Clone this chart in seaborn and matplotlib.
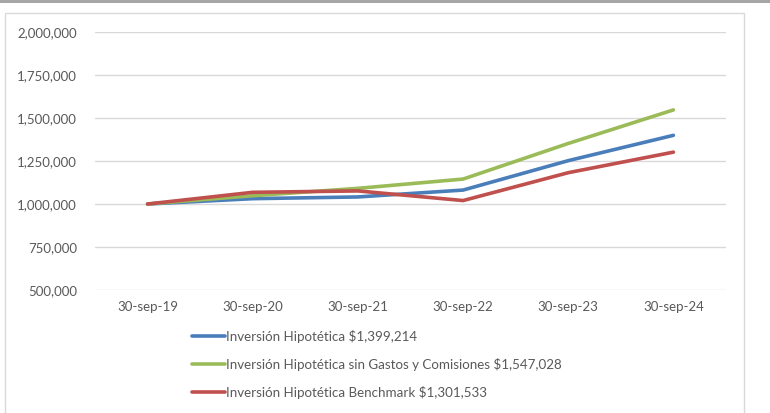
import matplotlib
matplotlib.use("Agg")
import matplotlib.pyplot as plt
import seaborn as sns
import pandas as pd
from matplotlib.lines import Line2D
from matplotlib.patches import Rectangle

dates = ["30-sep-19", "30-sep-20", "30-sep-21", "30-sep-22", "30-sep-23", "30-sep-24"]
inversion = [1000000, 1031000, 1041000, 1081000, 1252000, 1399214]
sin_gastos = [1000000, 1048000, 1091000, 1145000, 1352000, 1547028]
benchmark = [1000000, 1068000, 1076000, 1020000, 1182000, 1301533]
series_names = [
    "Inversión Hipotética $1,399,214",
    "Inversión Hipotética sin Gastos y Comisiones $1,547,028",
    "Inversión Hipotética Benchmark $1,301,533",
]
colors = ["#4A7EBB", "#9BBB59", "#C0504D"]
yticks = [500000, 750000, 1000000, 1250000, 1500000, 1750000, 2000000]

sns.set_theme(style="white")
plt.rcParams["font.family"] = ["Lato", "DejaVu Sans"]

rows = []
for name, vals in zip(series_names, [inversion, sin_gastos, benchmark]):
    for i, (d, v) in enumerate(zip(dates, vals)):
        rows.append({"pos": i, "fecha": d, "valor": v, "serie": name})
df = pd.DataFrame(rows)

fig = plt.figure(figsize=(7.7, 4.13), dpi=100)
fig.patch.set_facecolor("white")
ax = fig.add_axes([95 / 770, 1 - 290 / 413, (726 - 95) / 770, (290 - 32) / 413])

for y in yticks:
    ax.axhline(y, color="#D9D9D9", lw=1, zorder=0)

sns.lineplot(data=df, x="pos", y="valor", hue="serie", palette=colors,
             hue_order=series_names, linewidth=2.6, ax=ax, legend=False,
             sort=False, zorder=3)
for l in ax.lines[-3:]:
    l.set_solid_capstyle("round")

ax.set_xlim(-0.5, 5.5)
ax.set_ylim(500000, 2000000)
ax.set_xticks(range(len(dates)))
ax.set_xticklabels(dates)
ax.set_yticks(yticks)
ax.set_yticklabels([f"{v:,}" for v in yticks])
ax.tick_params(axis="both", labelsize=9.5, colors="#595959", length=0, pad=13)
ax.tick_params(axis="x", pad=8)
ax.set_xlabel("")
ax.set_ylabel("")
for s in ax.spines.values():
    s.set_visible(False)

# legend
handles = [Line2D([0], [0], color=c, lw=2.6, solid_capstyle="round") for c in colors]
leg = fig.legend(handles, series_names, loc="upper left",
                 bbox_to_anchor=(192 / 770, 1 - 330 / 413), frameon=False,
                 fontsize=9.6, handlelength=2.45, handletextpad=0.12,
                 labelspacing=1.12, borderaxespad=0, borderpad=0)
for t in leg.get_texts():
    t.set_color("#595959")

# chart frame and top bar
fig.add_artist(Rectangle((5 / 770, -0.01), (744 - 5) / 770, 1 - 13 / 413 + 0.01,
                         transform=fig.transFigure, fill=False,
                         edgecolor="#D9D9D9", lw=1))
fig.add_artist(Rectangle((0, 1 - 3 / 413), 1, 3 / 413, transform=fig.transFigure,
                         facecolor="#A6A6A6", edgecolor="none"))

fig.savefig("out.png", dpi=100, facecolor="white")
